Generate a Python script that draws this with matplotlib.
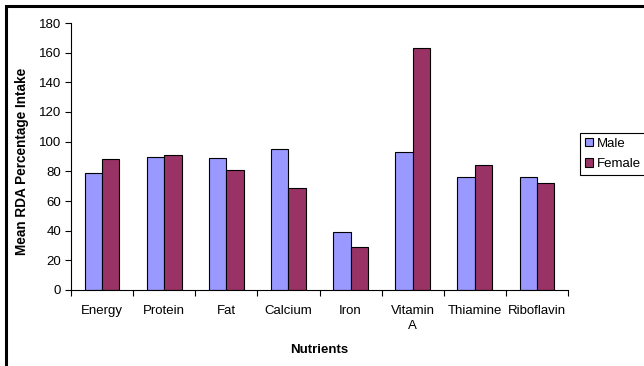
import matplotlib
matplotlib.use('Agg')
import matplotlib.pyplot as plt
import numpy as np
from matplotlib.patches import Rectangle

# Data
nutrients = ["Energy", "Protein", "Fat", "Calcium", "Iron", "Vitamin\nA", "Thiamine", "Riboflavin"]
male = [79, 90, 89, 95, 39, 93, 76, 76]
female = [88, 91, 81, 69, 29, 163, 84, 72]
series_names = ["Male", "Female"]
colors = ['#9999FF', '#993366']

plt.rcParams['font.family'] = ['Liberation Sans', 'DejaVu Sans']

fig = plt.figure(figsize=(6.44, 3.66), dpi=100)
ax = fig.add_axes([71/644, 1 - 290/366, (568 - 71)/644, (290 - 23)/366])

x = np.arange(len(nutrients))
w = 0.28
ax.bar(x - w/2, male, w, color=colors[0], edgecolor='black', linewidth=0.8, label=series_names[0])
ax.bar(x + w/2, female, w, color=colors[1], edgecolor='black', linewidth=0.8, label=series_names[1])

ax.set_xlim(-0.5, len(nutrients) - 0.5)
ax.set_ylim(0, 180)
ax.set_yticks(np.arange(0, 181, 20))
ax.set_xticks(x)
ax.set_xticklabels(nutrients, fontsize=9.5, linespacing=1.35)
ax.set_xticks(np.arange(-0.5, len(nutrients)), minor=True)
ax.tick_params(axis='x', which='major', length=0, pad=11)
ax.tick_params(axis='x', which='minor', length=4, direction='out', width=0.8)
ax.tick_params(axis='y', length=4, direction='out', width=0.8, labelsize=9.5, pad=3)

for s in ['top', 'right']:
    ax.spines[s].set_visible(False)
ax.spines['left'].set_linewidth(0.8)
ax.spines['bottom'].set_linewidth(0.8)

ax.set_ylabel('Mean RDA Percentage Intake', fontsize=9.8, fontweight='bold')
ax.yaxis.set_label_coords(-42/497, 0.48)
ax.set_xlabel('Nutrients', fontsize=9.5, fontweight='bold', labelpad=8)

leg = fig.legend(loc='upper left', bbox_to_anchor=(580/644, 1 - 133/366), fontsize=9.5,
                 frameon=True, fancybox=False, edgecolor='black', framealpha=1,
                 handlelength=0.6, handleheight=0.6, handletextpad=0.3,
                 borderpad=0.35, labelspacing=0.65, borderaxespad=0)
leg.get_frame().set_linewidth(0.8)

# outer frame of the chart
fig.patches.append(Rectangle((5.5/644, -0.1), 1.2, 1 - 5.5/366 + 0.1, transform=fig.transFigure,
                             fill=False, edgecolor='black', linewidth=2.2))

fig.savefig('out.png', dpi=100)
